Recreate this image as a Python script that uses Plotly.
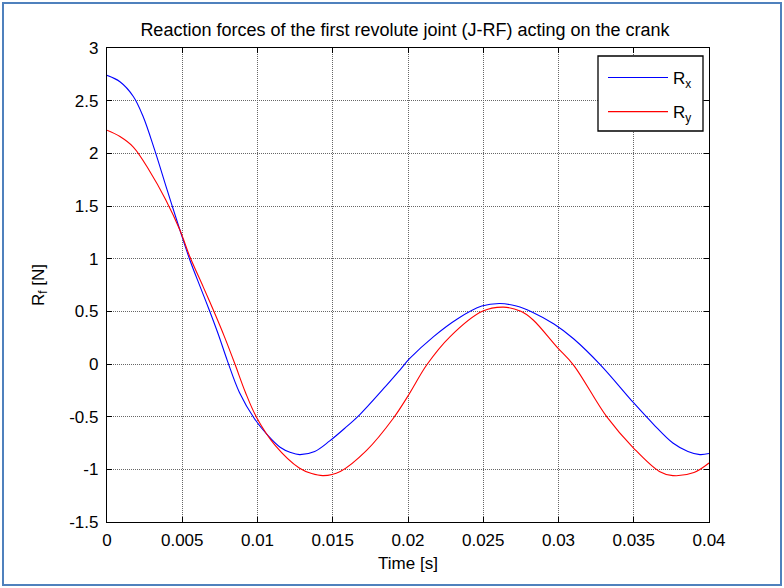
import plotly.graph_objects as go

# Data
t_rx = [0.0, 0.00086, 0.00175, 0.0024, 0.00317, 0.0040, 0.00485, 0.0055, 0.0062, 0.0068,
        0.0074, 0.0080, 0.0088, 0.0098, 0.0107, 0.0115, 0.0122, 0.0128, 0.0138, 0.0148,
        0.0158, 0.0168, 0.0184, 0.0195, 0.0201, 0.0217, 0.0233, 0.0249, 0.0261, 0.0272,
        0.0283, 0.0297, 0.031, 0.0328, 0.035, 0.0363, 0.0376, 0.0386, 0.0394, 0.04]
rx = [2.74, 2.68, 2.54, 2.35, 2.03, 1.65, 1.27, 0.99, 0.73, 0.51,
      0.28, 0.03, -0.27, -0.52, -0.68, -0.79, -0.84, -0.86, -0.83, -0.73,
      -0.61, -0.48, -0.23, -0.05, 0.05, 0.26, 0.43, 0.55, 0.575, 0.55,
      0.49, 0.38, 0.24, -0.01, -0.37, -0.57, -0.75, -0.83, -0.86, -0.85]

t_ry = [0.0, 0.00086, 0.00175, 0.0028, 0.0039, 0.00485, 0.0055, 0.0064, 0.0071, 0.0078,
        0.0085, 0.0092, 0.00995, 0.01116, 0.0128, 0.0136, 0.01437, 0.0155, 0.01725, 0.019,
        0.0201, 0.02124, 0.0228, 0.02494, 0.02634, 0.0275, 0.0283, 0.0299, 0.031, 0.0332,
        0.035, 0.0367, 0.0376, 0.039, 0.04]
ry = [2.22, 2.16, 2.06, 1.84, 1.56, 1.27, 1.02, 0.73, 0.50, 0.26,
      0.0, -0.27, -0.51, -0.77, -0.99, -1.04, -1.06, -1.02, -0.82, -0.52,
      -0.28, -0.01, 0.26, 0.50, 0.54, 0.50, 0.42, 0.16, -0.01, -0.50,
      -0.80, -1.02, -1.06, -1.03, -0.94]

x_ticks = [0, 0.005, 0.01, 0.015, 0.02, 0.025, 0.03, 0.035, 0.04]
x_tick_labels = ["0", "0.005", "0.01", "0.015", "0.02", "0.025", "0.03", "0.035", "0.04"]
y_ticks = [-1.5, -1, -0.5, 0, 0.5, 1, 1.5, 2, 2.5, 3]
y_tick_labels = ["-1.5", "-1", "-0.5", "0", "0.5", "1", "1.5", "2", "2.5", "3"]

FONT = "Liberation Sans, Arial, sans-serif"
L, R, T, B = 107, 75, 48, 66
PW, PH = 784 - L - R, 588 - T - B


def px_x(p):
    return (p - L) / PW


def px_y(p):
    return (588 - B - p) / PH


fig = go.Figure()
fig.add_trace(go.Scatter(x=t_rx, y=rx, mode="lines", name="R<sub>x</sub>", legendgroup="a",
                         line=dict(color="#0000ff", width=1.1, shape="spline", smoothing=1.0)))
fig.add_trace(go.Scatter(x=t_ry, y=ry, mode="lines", name="R<sub>y</sub>", legendgroup="b",
                         line=dict(color="#ff0000", width=1.1, shape="spline", smoothing=1.0)))

axis_common = dict(
    showline=True, linecolor="black", linewidth=1.3, mirror="ticks",
    ticks="inside", ticklen=5, tickcolor="black",
    showgrid=True, gridcolor="#666666", griddash="1px,1px", gridwidth=1,
    zeroline=False, tickfont=dict(family=FONT, size=17, color="black"),
)

fig.update_layout(
    width=784, height=588,
    margin=dict(l=L, r=R, t=T, b=B),
    paper_bgcolor="white", plot_bgcolor="white",
    title=dict(text="Reaction forces of the first revolute joint (J-RF) acting on the crank",
               x=px_x(405), xanchor="center", xref="paper", y=1 - 30 / 588, yanchor="middle",
               font=dict(family=FONT, size=18, color="black")),
    xaxis=dict(range=[0, 0.04], tickvals=x_ticks, ticktext=x_tick_labels, ticklabelstandoff=2,
               title=dict(text="Time [s]", font=dict(family=FONT, size=17, color="black"), standoff=8),
               **axis_common),
    yaxis=dict(range=[-1.5, 3], tickvals=y_ticks, ticktext=y_tick_labels, ticklabelstandoff=4,
               title=dict(text="R<sub>f</sub> [N]", font=dict(family=FONT, size=17, color="black"), standoff=20),
               **axis_common),
    legend=dict(x=px_x(603), y=px_y(60), xanchor="left", yanchor="top",
                bgcolor="rgba(0,0,0,0)", borderwidth=0,
                font=dict(family=FONT, size=17, color="black"),
                itemwidth=60, tracegroupgap=9, traceorder="grouped"),
    showlegend=True,
)

# Legend frame (drawn as a box behind the legend entries)
fig.add_shape(type="rect", xref="paper", yref="paper",
              x0=px_x(598), x1=px_x(703), y0=px_y(131), y1=px_y(56),
              line=dict(color="black", width=1.3), fillcolor="white", layer="above")

# Outer blue frame around the whole figure
fig.add_shape(type="rect", xref="paper", yref="paper",
              x0=px_x(3), x1=px_x(781), y0=px_y(585), y1=px_y(3),
              line=dict(color="#4f81bd", width=2), fillcolor="rgba(0,0,0,0)", layer="above")

fig.write_html("out.html", config={"displayModeBar": False},
               post_script="document.body.style.margin='0';")
